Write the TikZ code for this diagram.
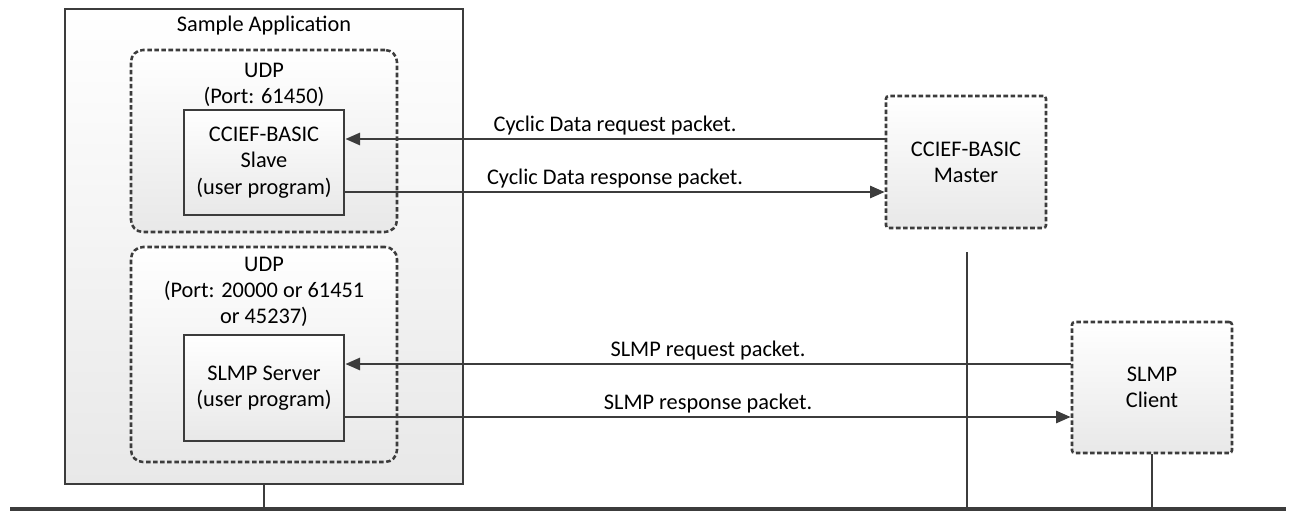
\documentclass[tikz,border=0pt]{standalone}
\usepackage{fontspec}
\setmainfont{Carlito}
\usetikzlibrary{arrows.meta}
\definecolor{ink}{HTML}{3C3C3C}
\tikzset{
  x=0.75pt, y=-0.75pt,
  every node/.style={font=\fontsize{16.75}{19.75}\selectfont, text=black, align=center},
  shade box/.style={draw=ink, line width=2pt, top color=white, bottom color=black!9, inner sep=0pt},
  solidbox/.style={shade box},
  dashbox/.style={shade box, dash pattern=on 3.4pt off 1.9pt, line width=1.9pt},
  wire/.style={draw=ink, line width=2pt},
  arr/.style={wire, -{Triangle[length=11pt,width=9pt]}},
  lbl/.style={above, inner sep=2pt},
}
\begin{document}
\begin{tikzpicture}
\useasboundingbox (0,0) rectangle (1292,511);

% sample application and its two UDP endpoints
\node[solidbox, minimum width=298.5pt, minimum height=356.25pt] (app) at (264,246.5) {};
\node (apptitle) at (264,26) {Sample Application};

\node[dashbox, rounded corners=9pt, minimum width=199.5pt, minimum height=136.5pt] (udp1) at (264,141) {};
\node (udp1txt) at (264,85) {UDP\\(Port: 61450)};
\node[solidbox, minimum width=120pt, minimum height=78.75pt] (slave) at (264,162.5)
  {CCIEF-BASIC\\Slave\\(user program)};

\node[dashbox, rounded corners=9pt, minimum width=199.5pt, minimum height=161.25pt] (udp2) at (264,354.5) {};
\node (udp2txt) at (264,292) {UDP\\(Port: 20000 or 61451\\or 45237)};
\node[solidbox, minimum width=120pt, minimum height=79.5pt] (server) at (264,388)
  {SLMP Server\\(user program)};

% remote stations
\node[dashbox, rounded corners=2pt, minimum width=120pt, minimum height=99pt] (master) at (966,162)
  {CCIEF-BASIC\\Master};
\node[dashbox, rounded corners=2pt, minimum width=120pt, minimum height=98.25pt] (client) at (1152,387.5)
  {SLMP\\Client};

% network bus and drops
\coordinate (busL) at (10,509);
\coordinate (busR) at (1286,509);
\coordinate (mdrop) at (967,252);
\draw[wire, line width=2.6pt] (busL) -- (busR);
\draw[wire] (app.south) -- (app.south |- busL);
\draw[wire] (mdrop) -- (mdrop |- busL);
\draw[wire] (client.south) -- (client.south |- busL);

% packet exchanges
\draw[arr] (master.west |- 0,139) -- node[lbl] {Cyclic Data request packet.} (slave.east |- 0,139);
\draw[arr] (slave.east |- 0,192) -- node[lbl] {Cyclic Data response packet.} (master.west |- 0,192);
\draw[arr] (client.west |- 0,364) -- node[lbl] {SLMP request packet.} (server.east |- 0,364);
\draw[arr] (server.east |- 0,417) -- node[lbl] {SLMP response packet.} (client.west |- 0,417);
\end{tikzpicture}
\end{document}
